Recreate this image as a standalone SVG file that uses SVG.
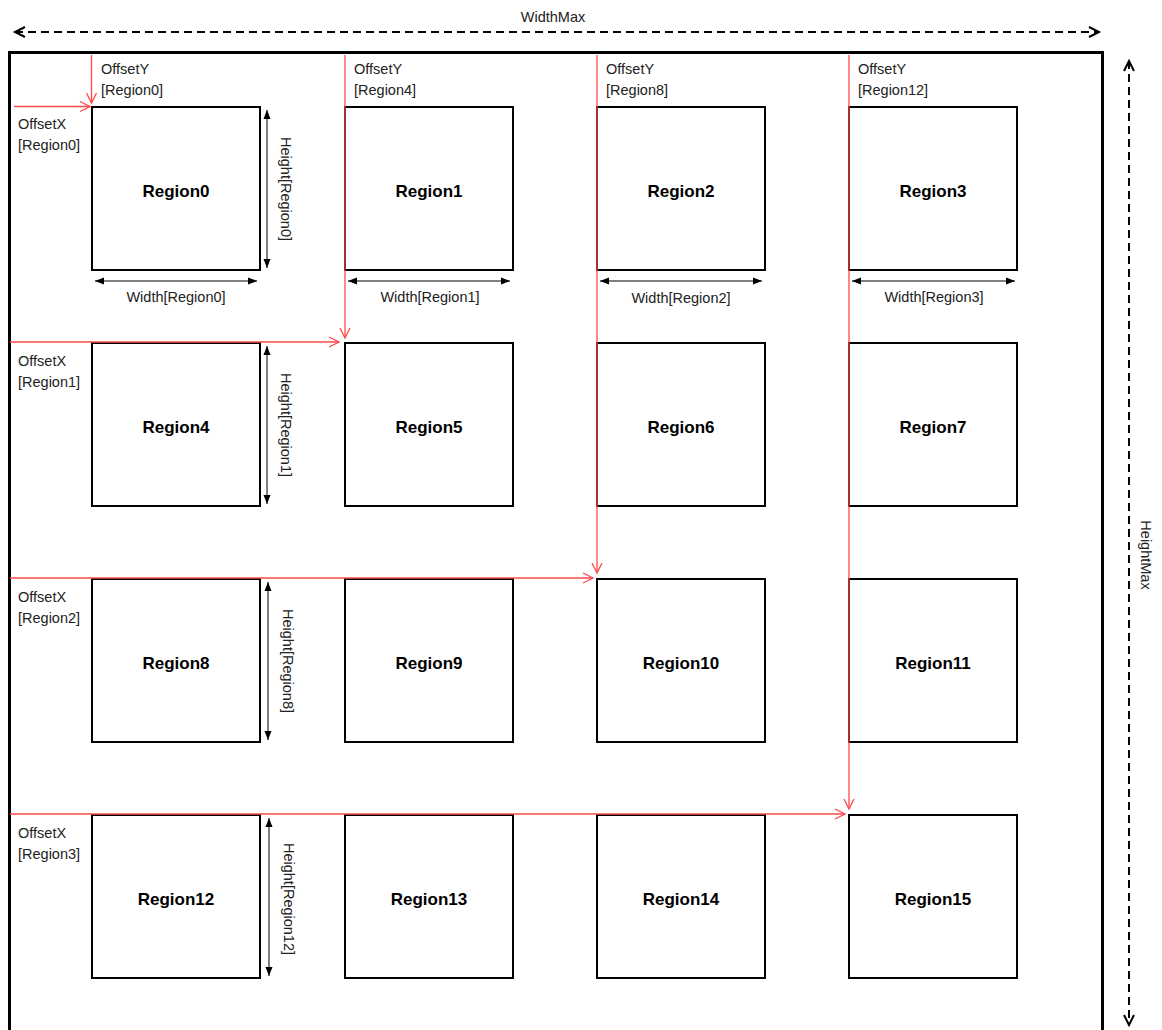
<svg xmlns="http://www.w3.org/2000/svg" width="1162" height="1030" viewBox="0 0 1162 1030">
<defs>
<style>
.box{fill:#fff;stroke:#000;stroke-width:2}
.lbl{font-family:"Liberation Sans",Arial,sans-serif;font-size:17px;font-weight:bold;text-anchor:middle;fill:#000}
.sm{font-family:"Liberation Sans",Arial,sans-serif;font-size:14.5px;fill:#222}
.mid{text-anchor:middle}
.red{stroke:#ff4848;stroke-width:1.3;fill:none;marker-end:url(#ra)}
.dim{stroke:#000;stroke-width:1;fill:none;marker-start:url(#ba);marker-end:url(#ba)}
.dash{stroke:#000;stroke-width:2;fill:none;stroke-dasharray:8 5;marker-start:url(#da);marker-end:url(#da)}
</style>
<marker id="ra" markerUnits="userSpaceOnUse" markerWidth="14" markerHeight="14" refX="11" refY="6" orient="auto" viewBox="0 0 14 12">
<path d="M1,1 L11,6 L1,11" fill="none" stroke="#ff4848" stroke-width="1.3"/>
</marker>
<marker id="ba" markerUnits="userSpaceOnUse" markerWidth="10" markerHeight="8" refX="9" refY="4" orient="auto-start-reverse" viewBox="0 0 10 8">
<path d="M0,0.5 L9,4 L0,7.5 Z" fill="#000"/>
</marker>
<marker id="da" markerUnits="userSpaceOnUse" markerWidth="14" markerHeight="14" refX="11" refY="6" orient="auto-start-reverse" viewBox="0 0 14 12">
<path d="M1,1 L11,6 L1,11" fill="none" stroke="#000" stroke-width="2"/>
</marker>
</defs>
<rect x="0" y="0" width="1162" height="1030" fill="#fff"/>
<rect x="9.5" y="52.5" width="1093" height="1010" fill="none" stroke="#000" stroke-width="3"/>

<g id="nodes">
<g id="region0"><rect class="box" x="92" y="107" width="168" height="163"/><text class="lbl" x="176" y="197">Region0</text></g>
<g id="region1"><rect class="box" x="345" y="107" width="168" height="163"/><text class="lbl" x="429" y="197">Region1</text></g>
<g id="region2"><rect class="box" x="597" y="107" width="168" height="163"/><text class="lbl" x="681" y="197">Region2</text></g>
<g id="region3"><rect class="box" x="849" y="107" width="168" height="163"/><text class="lbl" x="933" y="197">Region3</text></g>
<g id="region4"><rect class="box" x="92" y="343" width="168" height="163"/><text class="lbl" x="176" y="433">Region4</text></g>
<g id="region5"><rect class="box" x="345" y="343" width="168" height="163"/><text class="lbl" x="429" y="433">Region5</text></g>
<g id="region6"><rect class="box" x="597" y="343" width="168" height="163"/><text class="lbl" x="681" y="433">Region6</text></g>
<g id="region7"><rect class="box" x="849" y="343" width="168" height="163"/><text class="lbl" x="933" y="433">Region7</text></g>
<g id="region8"><rect class="box" x="92" y="579" width="168" height="163"/><text class="lbl" x="176" y="669">Region8</text></g>
<g id="region9"><rect class="box" x="345" y="579" width="168" height="163"/><text class="lbl" x="429" y="669">Region9</text></g>
<g id="region10"><rect class="box" x="597" y="579" width="168" height="163"/><text class="lbl" x="681" y="669">Region10</text></g>
<g id="region11"><rect class="box" x="849" y="579" width="168" height="163"/><text class="lbl" x="933" y="669">Region11</text></g>
<g id="region12"><rect class="box" x="92" y="815" width="168" height="163"/><text class="lbl" x="176" y="905">Region12</text></g>
<g id="region13"><rect class="box" x="345" y="815" width="168" height="163"/><text class="lbl" x="429" y="905">Region13</text></g>
<g id="region14"><rect class="box" x="597" y="815" width="168" height="163"/><text class="lbl" x="681" y="905">Region14</text></g>
<g id="region15"><rect class="box" x="849" y="815" width="168" height="163"/><text class="lbl" x="933" y="905">Region15</text></g>
</g>

<g id="connectors">
<line class="dash" x1="15" y1="32" x2="1099" y2="32"/>
<line class="dash" x1="1129" y1="61" x2="1129" y2="1025"/>
<line class="red" x1="91.5" y1="55" x2="91.5" y2="103"/>
<line class="red" x1="345" y1="55" x2="345" y2="338"/>
<line class="red" x1="597" y1="55" x2="597" y2="573"/>
<line class="red" x1="849" y1="55" x2="849" y2="809"/>
<line class="red" x1="14" y1="106.5" x2="90" y2="106.5"/>
<line class="red" x1="10" y1="342" x2="339" y2="342"/>
<line class="red" x1="10" y1="578" x2="593" y2="578"/>
<line class="red" x1="10" y1="814" x2="845" y2="814"/>
<line class="dim" x1="95" y1="281" x2="257" y2="281"/>
<line class="dim" x1="348" y1="281" x2="510" y2="281"/>
<line class="dim" x1="600" y1="281" x2="762" y2="281"/>
<line class="dim" x1="852" y1="281" x2="1015" y2="281"/>
<line class="dim" x1="267" y1="110" x2="267" y2="268"/>
<line class="dim" x1="267" y1="346" x2="267" y2="504"/>
<line class="dim" x1="268" y1="582" x2="268" y2="740"/>
<line class="dim" x1="269" y1="818" x2="269" y2="976"/>
</g>

<g id="labels">
<text class="sm mid" x="553" y="22">WidthMax</text>
<text class="sm mid" transform="translate(1141,555) rotate(90)">HeightMax</text>
<text class="sm" x="101" y="74">OffsetY</text><text class="sm" x="101" y="95">[Region0]</text>
<text class="sm" x="354" y="74">OffsetY</text><text class="sm" x="354" y="95">[Region4]</text>
<text class="sm" x="606" y="74">OffsetY</text><text class="sm" x="606" y="95">[Region8]</text>
<text class="sm" x="858" y="74">OffsetY</text><text class="sm" x="858" y="95">[Region12]</text>
<text class="sm" x="18" y="129">OffsetX</text><text class="sm" x="18" y="150">[Region0]</text>
<text class="sm" x="18" y="366">OffsetX</text><text class="sm" x="18" y="387">[Region1]</text>
<text class="sm" x="18" y="602">OffsetX</text><text class="sm" x="18" y="623">[Region2]</text>
<text class="sm" x="18" y="838">OffsetX</text><text class="sm" x="18" y="859">[Region3]</text>
<text class="sm mid" x="176" y="302">Width[Region0]</text>
<text class="sm mid" x="430" y="302">Width[Region1]</text>
<text class="sm mid" x="681" y="303">Width[Region2]</text>
<text class="sm mid" x="934" y="302">Width[Region3]</text>
<text class="sm mid" transform="translate(281,189) rotate(90)">Height[Region0]</text>
<text class="sm mid" transform="translate(281,425) rotate(90)">Height[Region1]</text>
<text class="sm mid" transform="translate(283,661) rotate(90)">Height[Region8]</text>
<text class="sm mid" transform="translate(284,899) rotate(90)">Height[Region12]</text>
</g>
</svg>
